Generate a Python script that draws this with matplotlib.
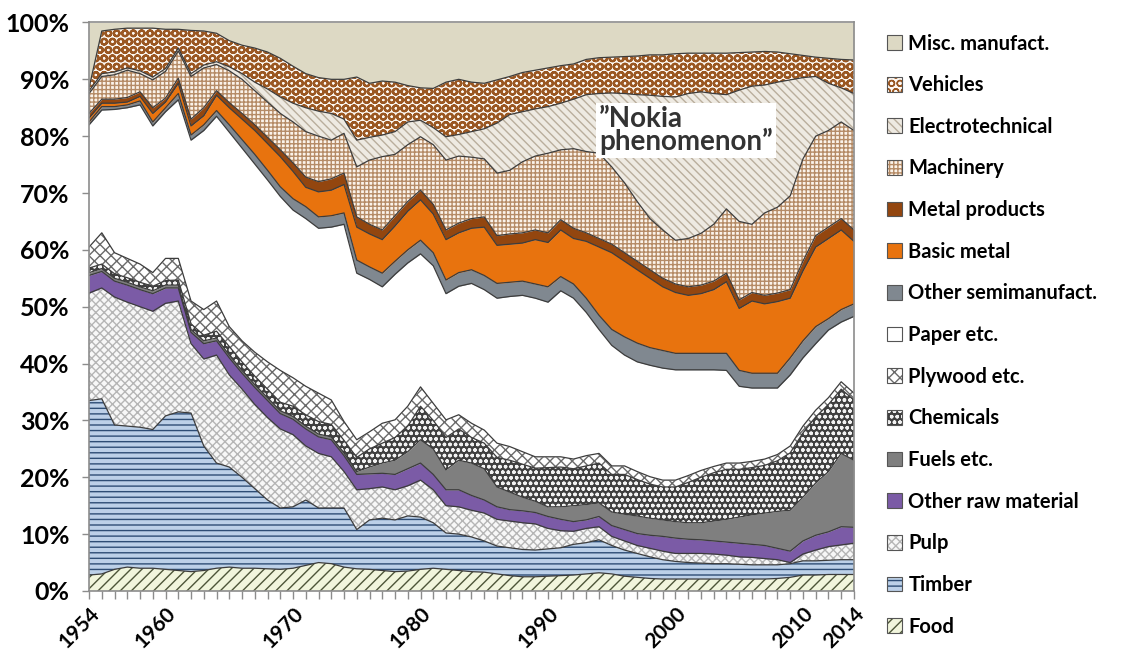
import numpy as np
import matplotlib
matplotlib.use("Agg")
import matplotlib.pyplot as plt
from matplotlib.patches import Patch

plt.rcParams['font.family'] = ['Lato', 'DejaVu Sans']
plt.rcParams['font.weight'] = 'bold'

years = np.arange(1954, 2015)

# upper edge of each band (cumulative share of exports, %)
food_top = [2.8, 3.0, 3.8, 4.2, 4.0, 4.0, 3.8, 3.6, 3.4, 3.6,
            4.0, 4.2, 4.0, 4.0, 3.9, 3.8, 4.0, 4.5, 5.0, 4.8,
            4.2, 3.9, 3.8, 3.6, 3.4, 3.5, 3.8, 4.0, 3.8, 3.6,
            3.4, 3.3, 3.0, 2.7, 2.5, 2.5, 2.6, 2.7, 2.8, 3.0,
            3.2, 3.0, 2.6, 2.4, 2.2, 2.1, 2.1, 2.1, 2.1, 2.1,
            2.1, 2.1, 2.1, 2.1, 2.2, 2.4, 2.8, 2.8, 2.9, 2.9,
            2.9]
timber_top = [33.5, 33.8, 29.2, 29.0, 28.8, 28.4, 30.8, 31.5, 31.3, 25.5,
              22.5, 21.8, 20.0, 18.0, 16.0, 14.6, 14.8, 16.0, 14.6, 14.6,
              14.6, 10.8, 12.5, 12.8, 12.5, 13.2, 13.0, 12.0, 10.2, 10.0,
              9.5, 8.8, 7.9, 7.6, 7.3, 7.2, 7.4, 7.6, 8.2, 8.5,
              9.0, 8.0, 7.2, 6.6, 6.0, 5.5, 5.2, 5.0, 4.9, 4.8,
              4.8, 4.7, 4.6, 4.6, 4.6, 4.8, 5.3, 5.3, 5.4, 5.5,
              5.5]
pulp_top = [52.4, 53.3, 51.7, 50.8, 50.0, 49.2, 50.6, 51.0, 43.5, 40.8,
            41.5, 38.0, 35.5, 32.8, 30.5, 28.5, 27.5, 25.5, 24.2, 23.6,
            21.0, 17.8, 18.0, 18.3, 17.8, 18.5, 19.5, 17.8, 15.0, 14.8,
            14.2, 13.7, 12.6, 12.3, 12.0, 11.8, 11.0, 10.6, 10.5, 11.0,
            11.3, 9.6, 8.8, 8.0, 7.5, 7.0, 6.6, 6.6, 6.6, 6.5,
            6.3, 6.0, 5.9, 5.7, 5.5, 5.0, 6.5, 7.2, 7.8, 8.1,
            8.4]
rawmat_top = [55.5, 56.2, 54.5, 53.8, 53.0, 52.3, 53.3, 53.3, 45.5, 43.5,
              44.0, 41.0, 38.3, 35.8, 33.5, 31.2, 30.2, 28.5, 27.1, 26.6,
              23.8, 20.5, 20.6, 20.7, 20.5, 21.5, 22.5, 20.5, 17.8, 17.8,
              16.8, 16.0, 14.8, 14.3, 14.1, 13.8, 13.1, 12.6, 12.2, 12.5,
              13.1, 11.5, 10.8, 10.1, 9.8, 9.6, 9.3, 9.1, 9.0, 8.8,
              8.6, 8.4, 8.2, 8.0, 7.5, 7.0, 8.8, 9.8, 10.4, 11.3,
              11.2]
fuels_top = [56.0, 56.7, 55.0, 54.3, 53.5, 52.8, 53.8, 53.8, 46.0, 44.0,
             44.5, 41.5, 38.8, 36.3, 34.0, 31.7, 30.7, 29.0, 27.6, 27.1,
             24.3, 21.0, 21.8, 22.5, 23.0, 24.5, 26.6, 25.0, 21.3, 23.0,
             22.5, 21.5, 18.3, 17.4, 16.5, 15.8, 14.8, 14.8, 15.0, 15.2,
             15.5, 13.9, 13.5, 13.2, 12.8, 12.5, 12.2, 12.0, 12.0, 12.3,
             12.6, 13.0, 13.4, 13.7, 14.0, 14.2, 16.5, 19.0, 21.0, 24.2,
             23.0]
chem_top = [56.8, 57.5, 55.8, 55.1, 54.3, 53.6, 54.6, 54.7, 47.0, 45.0,
            45.7, 43.0, 40.3, 37.8, 35.5, 33.2, 32.5, 31.0, 29.8, 29.3,
            26.5, 23.5, 25.0, 26.0, 27.0, 29.0, 32.5, 30.0, 27.0, 28.5,
            27.0, 26.0, 23.5, 23.0, 22.3, 21.6, 21.7, 21.8, 21.5, 22.0,
            22.5, 20.5, 20.5, 19.6, 18.8, 18.3, 18.3, 19.1, 20.0, 20.8,
            21.4, 21.4, 21.7, 22.1, 22.9, 24.3, 27.8, 30.6, 32.8, 35.5,
            33.6]
plywood_top = [60.5, 63.0, 59.5, 58.5, 57.5, 56.0, 58.5, 58.5, 51.0, 49.5,
               51.0, 46.5, 44.0, 42.0, 40.3, 38.8, 37.5, 36.0, 34.8, 33.6,
               29.8, 26.6, 28.0, 29.5, 30.1, 32.5, 35.9, 33.0, 30.1, 31.0,
               29.5, 28.3, 26.0, 25.4, 24.5, 23.6, 23.6, 23.6, 23.2, 23.8,
               24.2, 22.0, 22.0, 21.0, 20.1, 19.5, 19.5, 20.3, 21.2, 21.9,
               22.5, 22.5, 22.8, 23.2, 24.0, 25.5, 29.0, 31.8, 34.0, 36.8,
               34.8]
paper_top = [82.0, 84.6, 84.7, 85.0, 85.5, 81.8, 84.3, 86.4, 79.3, 81.0,
             83.5, 80.7, 77.9, 75.1, 72.3, 69.4, 67.0, 65.5, 63.8, 64.0,
             64.5, 55.9, 54.8, 53.5, 55.7, 57.7, 59.3, 57.2, 52.3, 53.6,
             54.1, 53.0, 51.5, 51.8, 52.0, 51.5, 50.8, 52.8, 51.5, 49.0,
             46.0, 43.2, 41.5, 40.3, 39.7, 39.2, 38.9, 38.9, 38.9, 38.9,
             38.8, 36.0, 35.7, 35.7, 35.7, 38.0, 41.0, 43.5, 45.9, 47.3,
             48.3]
othersemi_top = [82.5, 85.2, 85.2, 85.5, 86.2, 82.5, 85.0, 87.5, 80.2, 82.0,
                 84.5, 82.0, 79.4, 76.8, 74.0, 71.1, 69.0, 67.6, 65.8, 66.0,
                 66.5, 58.2, 57.0, 55.9, 58.0, 60.0, 61.7, 59.5, 54.7, 56.0,
                 56.5, 55.5, 54.1, 54.3, 54.5, 54.0, 53.5, 55.3, 54.0, 51.5,
                 48.5, 46.0, 44.7, 43.6, 42.8, 42.3, 41.8, 41.8, 41.8, 41.8,
                 41.8, 38.8, 38.3, 38.3, 38.3, 41.0, 44.0, 46.5, 47.9, 49.5,
                 50.5]
basicmetal_top = [83.2, 85.8, 85.8, 86.0, 87.0, 84.0, 86.0, 89.3, 81.8, 83.6,
                  87.2, 85.0, 83.0, 81.0, 78.7, 76.4, 73.8, 71.0, 70.2, 70.5,
                  71.5, 64.0, 62.8, 61.8, 64.2, 66.8, 68.8, 66.3, 61.8, 63.0,
                  63.8, 64.0, 60.8, 61.0, 61.2, 61.8, 61.3, 63.5, 62.0, 61.5,
                  60.5, 59.5, 58.0, 56.5, 55.0, 53.5, 52.5, 52.0, 52.3, 53.0,
                  54.4, 49.7, 51.0, 50.5, 50.9, 51.5, 56.3, 60.5, 62.0, 63.5,
                  61.5]
metalprod_top = [84.0, 86.5, 86.5, 86.8, 87.8, 85.0, 86.7, 90.2, 83.0, 85.0,
                 88.0, 85.9, 84.0, 82.0, 79.8, 77.6, 75.3, 72.8, 72.0, 72.5,
                 73.5, 65.8, 64.5, 63.5, 66.0, 68.5, 70.5, 68.0, 63.5, 64.7,
                 65.5, 65.8, 62.5, 62.8, 63.0, 63.5, 63.0, 65.3, 63.8, 63.0,
                 62.0, 61.0, 59.5, 58.0, 56.5, 55.0, 54.0, 53.5, 53.8, 54.5,
                 55.9, 51.2, 52.5, 52.0, 52.4, 53.0, 58.0, 62.5, 64.0, 65.5,
                 63.5]
machinery_top = [87.5, 90.5, 90.8, 91.6, 91.0, 89.9, 91.4, 95.0, 90.5, 92.0,
                 92.6, 91.5, 90.0, 88.0, 86.0, 84.0, 82.5, 80.8, 80.0, 79.3,
                 80.5, 74.6, 75.8, 76.4, 76.8, 78.5, 79.9, 78.5, 75.8, 76.5,
                 76.3, 76.0, 73.5, 74.0, 75.5, 76.5, 77.0, 77.6, 77.8, 77.3,
                 77.0, 74.6, 71.8, 68.5, 65.5, 63.5, 61.7, 62.0, 62.9, 64.5,
                 67.2, 65.0, 64.5, 66.5, 67.5, 69.5, 76.0, 80.0, 81.0, 82.5,
                 81.0]
electro_top = [88.0, 91.0, 91.3, 92.0, 91.5, 90.4, 91.9, 95.5, 91.0, 92.5,
               93.1, 92.2, 91.0, 89.5, 88.3, 86.9, 85.8, 85.0, 84.4, 84.0,
               83.0, 79.3, 79.8, 80.2, 80.8, 82.5, 82.8, 81.5, 79.9, 80.3,
               80.8, 81.3, 82.3, 83.8, 84.3, 84.8, 85.2, 85.8, 86.5, 87.3,
               87.5, 87.6, 87.5, 87.3, 87.2, 87.0, 86.9, 87.5, 87.8, 87.5,
               87.3, 88.1, 88.8, 89.0, 89.5, 89.9, 90.3, 90.5, 89.3, 88.5,
               87.5]
vehicles_top = [88.5, 98.5, 98.8, 99.0, 99.0, 99.0, 98.8, 98.8, 98.6, 98.5,
                98.1, 96.8, 96.0, 95.5, 94.8, 93.7, 92.3, 91.0, 90.3, 90.0,
                90.0, 90.4, 89.3, 89.7, 89.5, 88.9, 88.5, 88.4, 89.5, 90.0,
                89.5, 89.3, 89.9, 90.5, 91.2, 91.6, 92.0, 92.4, 92.7, 93.5,
                93.8, 93.9, 94.0, 94.1, 94.3, 94.3, 94.5, 94.6, 94.6, 94.6,
                94.6, 94.7, 94.8, 94.9, 94.8, 94.5, 94.2, 93.9, 93.7, 93.5,
                93.4]
misc_top = [100.0] * len(years)

categories = ["Food", "Timber", "Pulp", "Other raw material", "Fuels etc.",
              "Chemicals", "Plywood etc.", "Paper etc.", "Other semimanufact.",
              "Basic metal", "Metal products", "Machinery", "Electrotechnical",
              "Vehicles", "Misc. manufact."]

tops = np.array([food_top, timber_top, pulp_top, rawmat_top, fuels_top,
                 chem_top, plywood_top, paper_top, othersemi_top,
                 basicmetal_top, metalprod_top, machinery_top, electro_top,
                 vehicles_top, misc_top])
shares = np.diff(np.vstack([np.zeros(len(years)), tops]), axis=0)

# (face colour, hatch colour, hatch, hatch width) per category, bottom to top
styles = [
    ("#f1f5dc", "#4d5538", "///", 1.0),
    ("#bcd0e8", "#2e4d75", "---", 1.0),
    ("#f7f7f7", "#b5b5b5", "xxxx", 1.0),
    ("#7b5ba6", "#7b5ba6", "", 1.0),
    ("#7f7f7f", "#7f7f7f", "", 1.0),
    ("#3f3f3f", "#f2f2f2", "ooo", 1.0),
    ("#ffffff", "#6a6a6a", "xxx", 1.0),
    ("#ffffff", "#ffffff", "", 1.0),
    ("#808890", "#808890", "", 1.0),
    ("#e8730e", "#e8730e", "", 1.0),
    ("#93460f", "#93460f", "", 1.0),
    ("#fbf3ea", "#b58b66", "++++", 1.0),
    ("#eeeae2", "#b9ae9c", "\\\\\\\\", 1.0),
    ("#fdf9f4", "#9a5722", "OO", 1.6),
    ("#ddd9c4", "#ddd9c4", "", 1.0),
]

fig = plt.figure(figsize=(11.33, 6.57), dpi=100)
ax = fig.add_axes([0.0786, 0.1005, 0.6751, 0.8653])

polys = ax.stackplot(years, shares, colors=[s[0] for s in styles], linewidth=0)
for poly, (fc, hc, h, hw) in zip(polys, styles):
    poly.set_edgecolor(hc)
    poly.set_linewidth(0)
    if h:
        poly.set_hatch(h)
        if hasattr(poly, "set_hatch_linewidth"):
            poly.set_hatch_linewidth(hw)

# dark borders between the bands
for top in tops[:-1]:
    ax.plot(years, top, color="#3c3c3c", lw=0.9)

ax.set_xlim(1954, 2014)
ax.set_ylim(0, 100)
ax.set_yticks(np.arange(0, 101, 10))
ax.set_yticklabels([f"{v}%" for v in range(0, 101, 10)], fontsize=18, fontweight="bold")
ax.set_xticks([1954, 1960, 1970, 1980, 1990, 2000, 2010, 2014])
ax.set_xticklabels(["1954", "1960", "1970", "1980", "1990", "2000", "2010", "2014"],
                   rotation=45, ha="right", rotation_mode="anchor",
                   fontsize=15, fontweight="bold")
ax.set_xticks(years, minor=True)
ax.tick_params(axis="both", which="both", color="#8c8c8c", width=1)
ax.tick_params(axis="x", which="both", length=6)
ax.tick_params(axis="x", pad=3)
ax.tick_params(axis="y", length=5, pad=9)
for sp in ax.spines.values():
    sp.set_color("#8c8c8c")
    sp.set_linewidth(1.2)

ax.text(1994.0, 81.0, "\u201dNokia\nphenomenon\u201d", fontsize=20, fontweight="bold",
        color="#333333", ha="left", va="center", linespacing=0.8,
        bbox=dict(facecolor="white", edgecolor="none", pad=2))

handles = []
for fc, hc, h, hw in styles:
    p = Patch(facecolor=fc, edgecolor=hc, hatch=h, linewidth=0)
    if h and hasattr(p, "set_hatch_linewidth"):
        p.set_hatch_linewidth(hw)
    handles.append((p, Patch(facecolor="none", edgecolor="#555555", linewidth=0.8)))
fig.legend(handles[::-1], categories[::-1], loc="upper left",
           bbox_to_anchor=(0.783, 0.949), frameon=False, fontsize=14.5,
           handlelength=0.75, handleheight=0.75, handletextpad=0.3,
           labelspacing=1.075, borderpad=0, borderaxespad=0)

fig.savefig("out.png", dpi=100)
